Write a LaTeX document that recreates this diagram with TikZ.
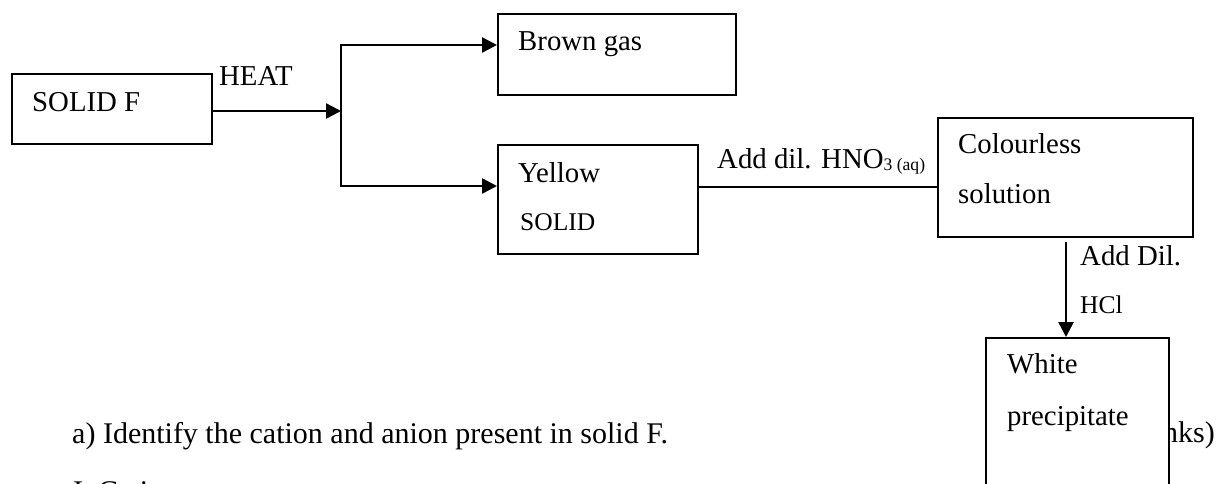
\documentclass[tikz,border=0pt]{standalone}
\usepackage{fontspec}
\setmainfont{Liberation Serif}
\usetikzlibrary{arrows.meta}

\newcommand{\bigtxt}{\fontsize{28.8}{34}\selectfont}
\newcommand{\qtxt}{\fontsize{30}{36}\selectfont}
\newcommand{\midtxt}{\fontsize{25.5}{30}\selectfont}
\newcommand{\smalltxt}{\fontsize{17.6}{20}\selectfont}

\tikzset{
  box/.style={draw, line width=2pt, fill=white, inner sep=0pt, anchor=north west},
  lbl/.style={inner sep=0pt, anchor=base west, font=\bigtxt},
  qlbl/.style={inner sep=0pt, anchor=base west, font=\qtxt},
  lblsmall/.style={inner sep=0pt, anchor=base west, font=\midtxt},
  flow/.style={line width=2.6pt, -{Triangle[length=15pt,width=15pt]}},
  link/.style={line width=2.6pt},
  thin link/.style={line width=1.8pt}
}

\begin{document}
\begin{tikzpicture}[x=1pt, y=-1pt]
\useasboundingbox (0,0) rectangle (1217,483);
\clip (0,0) rectangle (1217,483);

% flow chart boxes
\node[box, minimum width=200pt, minimum height=70pt] (solidF) at (11,73) {};
\node[box, minimum width=238pt, minimum height=81pt] (brown) at (497,13) {};
\node[box, minimum width=200pt, minimum height=109pt] (yellow) at (497,144) {};
\node[box, minimum width=255pt, minimum height=119pt] (colourless) at (937,117) {};

% box texts
\node[lbl] (tF) at (32,111) {SOLID F};
\node[lbl] (tBrown) at (518,50) {Brown gas};
\node[lbl] (tYellow) at (518,182) {Yellow};
\node[lblsmall] (tYsolid) at (520,230) {SOLID};
\node[lbl] (tCol) at (958,153) {Colourless};
\node[lbl] (tSol) at (958,203) {solution};

% question text
\node[qlbl] (qa) at (72,443) {a) Identify the cation and anion present in solid F.};
\node[qlbl] (qi) at (73,501) {I. Cation};
\node[inner sep=0pt, anchor=base east, font=\qtxt] (marks) at (1215,442) {nks)};

% precipitate box, drawn over the marks text
\node[box, minimum width=183pt, minimum height=180pt] (white) at (985,337) {};
\node[lbl] (tWhite) at (1007,373) {White};
\node[lbl] (tPpt) at (1007,425) {precipitate};

% connectors
\coordinate (split) at (341,111);
\coordinate (splitTop) at (341,45);
\coordinate (splitBot) at (341,186);
\draw[flow] (solidF.east |- split) -- (split);
\draw[link, line cap=rect] (splitTop) -- (splitBot);
\draw[flow] (splitTop) -- (brown.west |- splitTop);
\draw[flow] (splitBot) -- (yellow.west |- splitBot);
\draw[thin link] (yellow.east |- 0,187) -- (colourless.west |- 0,187);
\coordinate (dropTop) at (1066,242);
\draw[flow] (dropTop) -- (dropTop |- white.north);

% connector labels
\node[lbl] (heat) at (219,85) {HEAT};
\node[lbl] (hno3) at (717,168) {Add dil. HNO\raisebox{-2pt}{\smalltxt 3 (aq)}};
\node[lbl] (adddil) at (1080,265) {Add Dil.};
\node[lblsmall] (hcl) at (1080,313) {HCl};
\end{tikzpicture}
\end{document}
